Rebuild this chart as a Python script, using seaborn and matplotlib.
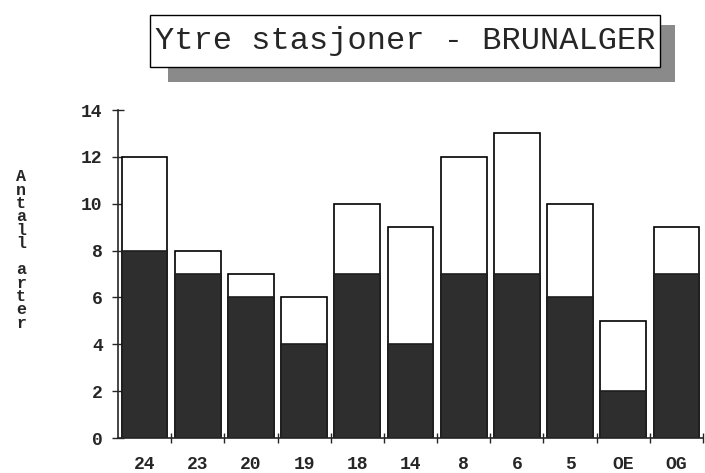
import seaborn as sns
import pandas
import matplotlib
import matplotlib.pyplot as plt
from matplotlib.patches import Rectangle

stations = ["24", "23", "20", "19", "18", "14", "8", "6", "5", "OE", "OG"]
total_species = [12, 8, 7, 6, 10, 9, 12, 13, 10, 5, 9]
dark_species = [8, 7, 6, 4, 7, 4, 7, 7, 6, 2, 7]
y_ticks = [0, 2, 4, 6, 8, 10, 12, 14]

sns.set_style("ticks")
plt.rcParams["font.family"] = ["Liberation Mono", "DejaVu Sans Mono"]

df = pandas.DataFrame(
    {"station": stations, "total": total_species, "dark": dark_species}
)

fig = plt.figure(figsize=(7.05, 4.73), dpi=100)
W, H = 705, 473
ax = fig.add_axes([118 / W, 1 - 438 / H, (703 - 118) / W, (438 - 110) / H])

sns.barplot(
    ax=ax, data=df, x="station", y="total", order=stations,
    color="white", edgecolor="black", linewidth=1.2, width=0.86,
    saturation=1,
)
sns.barplot(
    ax=ax, data=df, x="station", y="dark", order=stations,
    color="#2e2e2e", edgecolor="#1e1e1e", linewidth=1.2, width=0.86,
    saturation=1,
)

ax.set_xlim(-0.5, len(stations) - 0.5)
ax.set_ylim(0, 14)
ax.set_yticks(y_ticks)
ax.set_yticklabels([str(v) for v in y_ticks], fontsize=13, weight="bold")
ax.set_xticks(range(len(stations)))
ax.set_xticklabels(stations, fontsize=13, weight="bold")
ax.set_xticks([i + 0.5 for i in range(len(stations))], minor=True)
ax.tick_params(axis="x", which="major", length=0, pad=13)
ax.tick_params(axis="x", which="minor", direction="inout", length=7, width=1)
ax.tick_params(axis="y", which="major", direction="inout", length=8, width=1, pad=7)
ax.set_xlabel("")
ax.set_ylabel("")
for s in ["top", "right"]:
    ax.spines[s].set_visible(False)
for s in ["left", "bottom"]:
    ax.spines[s].set_linewidth(1.2)

# vertical stacked y label
fig.text(21 / W, 1 - 250 / H, "\n".join("Antall arter"), ha="center", va="center",
         fontsize=12, weight="bold", linespacing=0.86)

# title box with shadow
fig.patches.append(Rectangle((168 / W, 1 - 82 / H), (675 - 168) / W, (82 - 25) / H,
                             transform=fig.transFigure, facecolor="#8a8a8a",
                             edgecolor="none", zorder=1))
fig.patches.append(Rectangle((150 / W, 1 - 67 / H), (660 - 150) / W, (67 - 15) / H,
                             transform=fig.transFigure, facecolor="white",
                             edgecolor="black", linewidth=1, zorder=2))
fig.text(405 / W, 1 - 41 / H, "Ytre stasjoner - BRUNALGER", ha="center", va="center",
         fontsize=23, zorder=3)

fig.savefig("out.png", dpi=100)
